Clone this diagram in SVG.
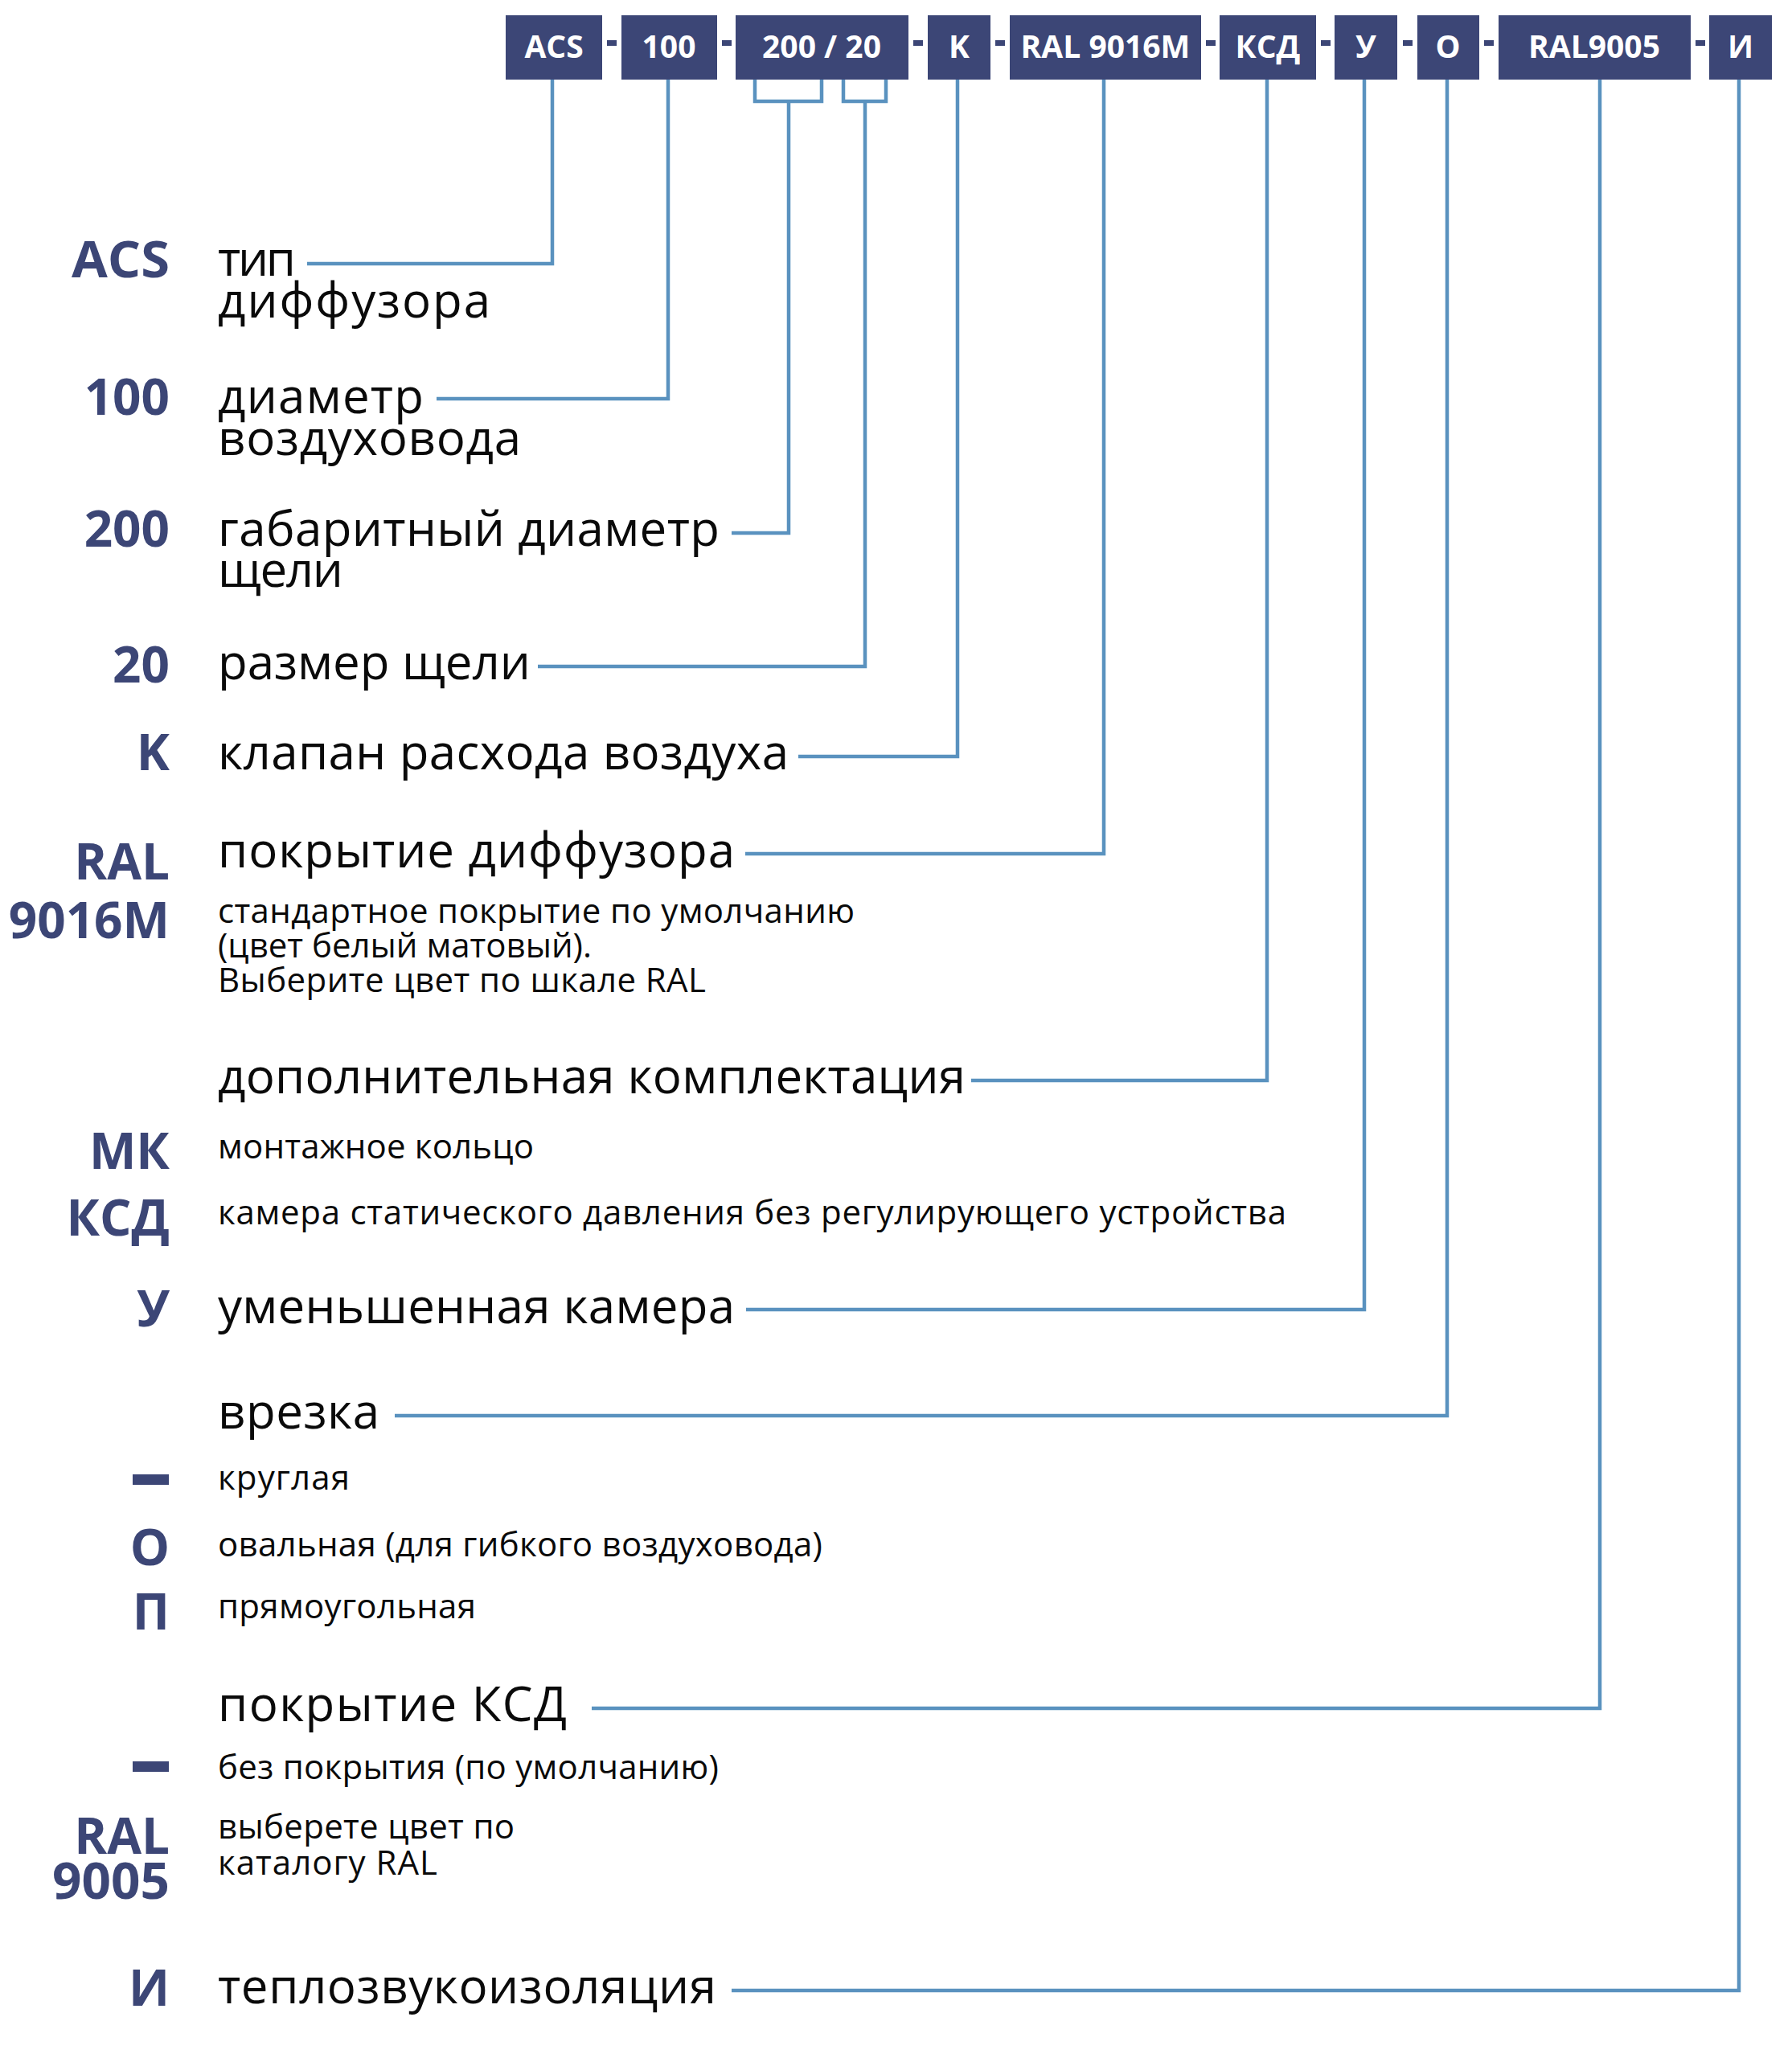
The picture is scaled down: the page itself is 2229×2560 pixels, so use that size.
<svg xmlns="http://www.w3.org/2000/svg" width="2229" height="2560" viewBox="0 0 2229 2560">
<style>
.box{fill:#3c4676}
.bt{font-family:"Open Sans","Noto Sans","DejaVu Sans",sans-serif;font-weight:700;font-size:39px;fill:#ffffff;text-anchor:middle}
.dash{fill:#3c4676}
.code{font-family:"Open Sans","Noto Sans","DejaVu Sans",sans-serif;font-weight:700;font-size:62px;fill:#3c4676;text-anchor:end}
.d{font-family:"Open Sans","Noto Sans","DejaVu Sans",sans-serif;font-size:60px;fill:#0a0a0a}
.s{font-family:"Open Sans","Noto Sans","DejaVu Sans",sans-serif;font-size:42px;fill:#0a0a0a}
.c{fill:none;stroke:#5a92bf;stroke-width:4.5;stroke-linejoin:miter;stroke-linecap:butt}
</style>
<rect width="2229" height="2560" fill="#ffffff"/>

<!-- code boxes -->
<g id="box-acs"><rect class="box" x="629" y="19" width="120" height="80"/><text class="bt" x="689" y="72">ACS</text></g>
<g id="box-100"><rect class="box" x="773" y="19" width="119" height="80"/><text class="bt" x="832" y="72">100</text></g>
<g id="box-200-20"><rect class="box" x="915" y="19" width="215" height="80"/><text class="bt" x="1022" y="72">200 / 20</text></g>
<g id="box-k"><rect class="box" x="1154" y="19" width="78" height="80"/><text class="bt" x="1193" y="72">K</text></g>
<g id="box-ral9016m"><rect class="box" x="1256" y="19" width="238" height="80"/><text class="bt" x="1375" y="72">RAL 9016M</text></g>
<g id="box-ksd"><rect class="box" x="1517" y="19" width="120" height="80"/><text class="bt" x="1577" y="72">КСД</text></g>
<g id="box-u"><rect class="box" x="1660" y="19" width="78" height="80"/><text class="bt" x="1699" y="72">У</text></g>
<g id="box-o"><rect class="box" x="1763" y="19" width="77" height="80"/><text class="bt" x="1801" y="72">О</text></g>
<g id="box-ral9005"><rect class="box" x="1864" y="19" width="239" height="80"/><text class="bt" x="1983" y="72">RAL9005</text></g>
<g id="box-i"><rect class="box" x="2126" y="19" width="78" height="80"/><text class="bt" x="2165" y="72">И</text></g>

<g id="separators">
<rect class="dash" x="755" y="50" width="12" height="7"/>
<rect class="dash" x="898" y="50" width="12" height="7"/>
<rect class="dash" x="1136" y="50" width="12" height="7"/>
<rect class="dash" x="1238" y="50" width="12" height="7"/>
<rect class="dash" x="1500" y="50" width="12" height="7"/>
<rect class="dash" x="1643" y="50" width="12" height="7"/>
<rect class="dash" x="1745" y="50" width="12" height="7"/>
<rect class="dash" x="1846" y="50" width="12" height="7"/>
<rect class="dash" x="2109" y="50" width="12" height="7"/>
</g>

<!-- connectors -->
<g id="connectors">
<path class="c" d="M687 99 V328 H382"/>
<path class="c" d="M831 99 V496 H543"/>
<path class="c" d="M939 99 V126 H1022 V99"/>
<path class="c" d="M981 126 V663 H910"/>
<path class="c" d="M1049 99 V126 H1102 V99"/>
<path class="c" d="M1076 126 V829 H669"/>
<path class="c" d="M1191 99 V941 H993"/>
<path class="c" d="M1373 99 V1062 H927"/>
<path class="c" d="M1576 99 V1344 H1208"/>
<path class="c" d="M1697 99 V1629 H928"/>
<path class="c" d="M1800 99 V1761 H491"/>
<path class="c" d="M1990 99 V2125 H736"/>
<path class="c" d="M2163 99 V2476 H910"/>
</g>

<!-- legend rows -->
<g id="row-acs">
<text class="code" x="211" y="345" textLength="122" lengthAdjust="spacingAndGlyphs">ACS</text>
<text class="d" x="271" y="343" textLength="97" lengthAdjust="spacing">тип</text>
<text class="d" x="271" y="395" textLength="339" lengthAdjust="spacing">диффузора</text>
</g>
<g id="row-100">
<text class="code" x="211" y="516">100</text>
<text class="d" x="271" y="514" textLength="256" lengthAdjust="spacing">диаметр</text>
<text class="d" x="271" y="566" textLength="377" lengthAdjust="spacing">воздуховода</text>
</g>
<g id="row-200">
<text class="code" x="211" y="680">200</text>
<text class="d" x="271" y="679" textLength="624" lengthAdjust="spacing">габаритный диаметр</text>
<text class="d" x="271" y="730" textLength="156" lengthAdjust="spacing">щели</text>
</g>
<g id="row-20">
<text class="code" x="211" y="849">20</text>
<text class="d" x="271" y="845" textLength="389" lengthAdjust="spacing">размер щели</text>
</g>
<g id="row-k">
<text class="code" x="211" y="958">K</text>
<text class="d" x="271" y="957" textLength="710" lengthAdjust="spacing">клапан расхода воздуха</text>
</g>
<g id="row-ral9016m">
<text class="code" x="211" y="1094">RAL</text>
<text class="code" x="211" y="1167">9016M</text>
<text class="d" x="271" y="1079" textLength="643" lengthAdjust="spacing">покрытие диффузора</text>
<text class="s" x="271" y="1148" textLength="792" lengthAdjust="spacing">стандартное покрытие по умолчанию</text>
<text class="s" x="271" y="1191" textLength="465" lengthAdjust="spacing">(цвет белый матовый).</text>
<text class="s" x="271" y="1234" textLength="607" lengthAdjust="spacing">Выберите цвет по шкале RAL</text>
</g>
<g id="row-dop">
<text class="d" x="271" y="1360" textLength="930" lengthAdjust="spacing">дополнительная комплектация</text>
</g>
<g id="row-mk">
<text class="code" x="211" y="1454">МК</text>
<text class="s" x="271" y="1441" textLength="393" lengthAdjust="spacing">монтажное кольцо</text>
</g>
<g id="row-ksd">
<text class="code" x="211" y="1537">КСД</text>
<text class="s" x="271" y="1523" textLength="1329" lengthAdjust="spacing">камера статического давления без регулирующего устройства</text>
</g>
<g id="row-u">
<text class="code" x="211" y="1650">У</text>
<text class="d" x="271" y="1646" textLength="643" lengthAdjust="spacing">уменьшенная камера</text>
</g>
<g id="row-vrezka">
<text class="d" x="271" y="1777" textLength="201" lengthAdjust="spacing">врезка</text>
</g>
<g id="row-kruglaya">
<rect class="dash" x="165" y="1834" width="45" height="13"/>
<text class="s" x="271" y="1853" textLength="164" lengthAdjust="spacing">круглая</text>
</g>
<g id="row-o">
<text class="code" x="211" y="1947">О</text>
<text class="s" x="271" y="1936" textLength="752" lengthAdjust="spacing">овальная (для гибкого воздуховода)</text>
</g>
<g id="row-p">
<text class="code" x="211" y="2027">П</text>
<text class="s" x="271" y="2013" textLength="321" lengthAdjust="spacing">прямоугольная</text>
</g>
<g id="row-pokr-ksd">
<text class="d" x="271" y="2141" textLength="434" lengthAdjust="spacing">покрытие КСД</text>
</g>
<g id="row-bez">
<rect class="dash" x="165" y="2191" width="45" height="13"/>
<text class="s" x="271" y="2213" textLength="623" lengthAdjust="spacing">без покрытия (по умолчанию)</text>
</g>
<g id="row-ral9005">
<text class="code" x="211" y="2306">RAL</text>
<text class="code" x="211" y="2362" textLength="146" lengthAdjust="spacingAndGlyphs">9005</text>
<text class="s" x="271" y="2287" textLength="369" lengthAdjust="spacing">выберете цвет по</text>
<text class="s" x="271" y="2332" textLength="273" lengthAdjust="spacing">каталогу RAL</text>
</g>
<g id="row-i">
<text class="code" x="211" y="2495">И</text>
<text class="d" x="271" y="2492" textLength="620" lengthAdjust="spacing">теплозвукоизоляция</text>
</g>
</svg>
